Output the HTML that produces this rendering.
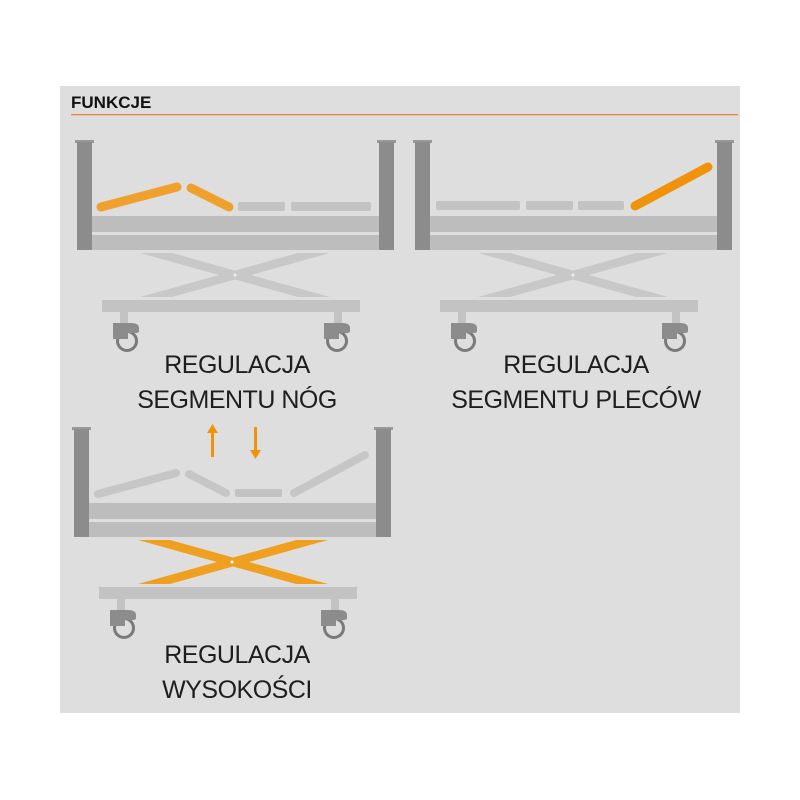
<!DOCTYPE html>
<html><head><style>
html,body{margin:0;padding:0;background:#fff;width:800px;height:800px;overflow:hidden}
svg{display:block}
.t{font-family:"Liberation Sans",sans-serif;font-size:25px;fill:#1e1e1e;text-anchor:middle;letter-spacing:-0.5px}
</style></head><body>
<svg width="800" height="800" viewBox="0 0 800 800">
<rect x="60" y="86" width="680" height="627" fill="#dedede"/>
<text x="71" y="108" font-family="Liberation Sans,sans-serif" font-weight="bold" font-size="17" fill="#111">FUNKCJE</text>
<rect x="71" y="114" width="667" height="1.3" fill="#e08a3a"/>

<defs>
<g id="base">
  <rect x="0" y="0" width="19" height="3" fill="#999"/>
  <rect x="2" y="2" width="15" height="108" fill="#8c8c8c"/>
  <rect x="302" y="0" width="19" height="3" fill="#999"/>
  <rect x="304" y="2" width="15" height="108" fill="#8c8c8c"/>
  <rect x="17" y="76" width="287" height="16" fill="#bdbdbd"/>
  <rect x="17" y="95" width="287" height="15" fill="#bdbdbd"/>
  <rect x="27" y="160" width="258" height="12" fill="#c3c3c3"/>
  <rect x="45" y="172" width="8" height="14" fill="#c3c3c3"/>
  <rect x="259" y="172" width="8" height="14" fill="#c3c3c3"/>
  <circle cx="52" cy="201" r="9.5" fill="none" stroke="#7a7a7a" stroke-width="3"/>
  <path d="M38 183 h18 q8 0 8 5 v3 q0 2 -3 2 h-8 v6 h-15 z" fill="#8c8c8c"/>
  <circle cx="262" cy="201" r="9.5" fill="none" stroke="#7a7a7a" stroke-width="3"/>
  <path d="M249 183 h18 q8 0 8 5 v3 q0 2 -3 2 h-8 v6 h-15 z" fill="#8c8c8c"/>
</g>
<g id="sc">
  <polygon points="0,0 32,0 190,44 158,44" />
  <polygon points="158,0 190,0 32,44 0,44" />
</g>
</defs>

<!-- bed 1 -->
<use href="#base" x="75" y="140"/>
<g fill="#c8c8c8"><use href="#sc" x="140" y="253"/></g>
<circle cx="235" cy="275" r="1.5" fill="#eee"/>
<g stroke-linecap="round" stroke-width="9">
  <line x1="101" y1="207" x2="177" y2="187" stroke="#f0a02c"/>
  <line x1="191" y1="188" x2="229" y2="207" stroke="#f0a02c"/>
</g>
<rect x="238" y="202" width="47" height="9" rx="2" fill="#c3c3c3"/>
<rect x="291" y="202" width="80" height="9" rx="2" fill="#c3c3c3"/>
<text class="t" x="237" y="373">REGULACJA</text>
<text class="t" x="237" y="408">SEGMENTU NÓG</text>

<!-- bed 2 -->
<use href="#base" x="413" y="140"/>
<g fill="#c8c8c8"><use href="#sc" x="478" y="253"/></g>
<circle cx="573" cy="275" r="1.5" fill="#eee"/>
<rect x="436" y="201" width="84" height="9" rx="2" fill="#c3c3c3"/>
<rect x="526" y="201" width="47" height="9" rx="2" fill="#c3c3c3"/>
<rect x="578" y="201" width="46" height="9" rx="2" fill="#c3c3c3"/>
<line x1="635" y1="206" x2="708" y2="167" stroke="#f0920a" stroke-width="9" stroke-linecap="round"/>
<text class="t" x="576" y="373">REGULACJA</text>
<text class="t" x="576" y="408">SEGMENTU PLECÓW</text>

<!-- bed 3 -->
<use href="#base" x="72" y="427"/>
<g fill="#f0a020"><use href="#sc" x="138" y="540"/></g>
<circle cx="232" cy="562" r="1.5" fill="#fff"/>
<g stroke-linecap="round" stroke-width="8" stroke="#c6c6c6">
  <line x1="98" y1="494" x2="176" y2="473"/>
  <line x1="189" y1="474" x2="226" y2="493"/>
  <line x1="294" y1="493" x2="365" y2="455"/>
</g>
<rect x="235" y="489" width="47" height="8" rx="2" fill="#c3c3c3"/>
<rect x="211" y="432" width="3" height="25" fill="#f0920a"/>
<polygon points="207,433 218,433 212.5,424" fill="#f0920a"/>
<rect x="254" y="427" width="3" height="24" fill="#f0920a"/>
<polygon points="250,450 261,450 255.5,459" fill="#f0920a"/>
<text class="t" x="237" y="663">REGULACJA</text>
<text class="t" x="237" y="698">WYSOKOŚCI</text>
</svg>
</body></html>
